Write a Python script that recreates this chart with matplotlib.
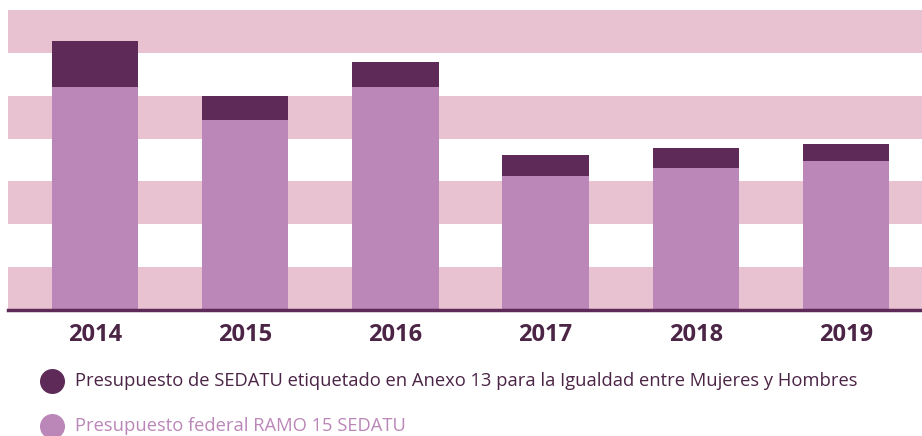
import matplotlib
matplotlib.use("Agg")
import matplotlib.pyplot as plt
from matplotlib.lines import Line2D

years = ["2014", "2015", "2016", "2017", "2018", "2019"]
# values in band units (chart has no numeric axis)
ramo15 = [5.20, 4.43, 5.20, 3.13, 3.31, 3.48]
anexo13 = [1.08, 0.56, 0.59, 0.49, 0.48, 0.39]

label_anexo = "Presupuesto de SEDATU etiquetado en Anexo 13 para la Igualdad entre Mujeres y Hombres"
label_ramo = "Presupuesto federal RAMO 15 SEDATU"

dark = "#5e2b58"
light = "#bb86b8"
band = "#e8c2d0"
text_dark = "#4b2446"

plt.rcParams["font.family"] = ["Open Sans", "DejaVu Sans"]

fig = plt.figure(figsize=(9.22, 4.36), dpi=100)
ax = fig.add_axes([8 / 922, 126 / 436, 914 / 922, 300 / 436])

for k in range(0, 7, 2):
    ax.axhspan(k, k + 1, color=band, lw=0, zorder=0)

x = list(range(len(years)))
ax.bar(x, ramo15, width=0.575, color=light, zorder=2)
ax.bar(x, anexo13, bottom=ramo15, width=0.575, color=dark, zorder=2)

ax.set_xlim(-0.58, 5.507)
ax.set_ylim(0, 7)
ax.set_yticks([])
ax.set_xticks(x)
ax.set_xticklabels(years, fontsize=17, fontweight="bold", color=text_dark)
ax.tick_params(axis="x", length=0, pad=9)
for s in ["top", "right", "left"]:
    ax.spines[s].set_visible(False)
ax.spines["bottom"].set_color(dark)
ax.spines["bottom"].set_linewidth(2.5)

fig.add_artist(Line2D([52 / 922], [1 - 381 / 436], marker="o", markersize=17,
                      color=dark, transform=fig.transFigure, lw=0))
fig.text(75 / 922, 1 - 381 / 436, label_anexo, fontsize=13.2, color=text_dark,
         va="center", ha="left")
fig.add_artist(Line2D([52 / 922], [1 - 426 / 436], marker="o", markersize=17,
                      color=light, transform=fig.transFigure, lw=0))
fig.text(75 / 922, 1 - 426 / 436, label_ramo, fontsize=13.2, color=light,
         va="center", ha="left")

fig.savefig("out.png", dpi=100)
